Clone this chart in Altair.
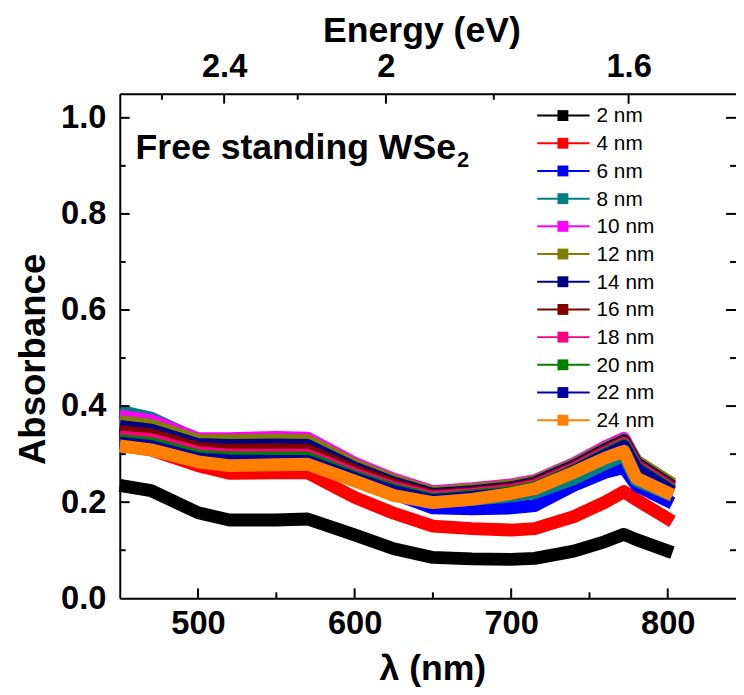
import altair as alt
import pandas as pd

# ---------------- data ----------------
wavelength = [450, 470, 500, 520, 550, 570, 600, 625, 650, 675, 700, 715, 740, 760, 772, 780, 803]

labels = ["2 nm", "4 nm", "6 nm", "8 nm", "10 nm", "12 nm", "14 nm", "16 nm",
          "18 nm", "20 nm", "22 nm", "24 nm"]
colors = ["#000000", "#FF0000", "#0000FF", "#008080", "#FF00FF", "#808000",
          "#000080", "#800000", "#FF0080", "#008000", "#0000A0", "#FF8000"]

a2 = [0.235, 0.224, 0.178, 0.163, 0.163, 0.165, 0.132, 0.103, 0.085, 0.082, 0.081, 0.083, 0.098, 0.118, 0.133, 0.122, 0.095]
a4 = [0.318, 0.309, 0.276, 0.260, 0.261, 0.261, 0.210, 0.177, 0.150, 0.145, 0.142, 0.145, 0.170, 0.200, 0.222, 0.205, 0.160]
a6 = [0.340, 0.330, 0.300, 0.295, 0.300, 0.300, 0.260, 0.218, 0.188, 0.186, 0.188, 0.193, 0.235, 0.262, 0.272, 0.235, 0.198]
a8 = [0.389, 0.375, 0.330, 0.328, 0.330, 0.330, 0.275, 0.238, 0.202, 0.206, 0.213, 0.220, 0.249, 0.280, 0.298, 0.245, 0.214]
a10 = [0.379, 0.370, 0.332, 0.332, 0.335, 0.333, 0.281, 0.248, 0.222, 0.228, 0.236, 0.245, 0.280, 0.315, 0.333, 0.284, 0.235]
a12 = [0.368, 0.360, 0.328, 0.328, 0.329, 0.328, 0.277, 0.245, 0.220, 0.226, 0.234, 0.243, 0.278, 0.312, 0.330, 0.286, 0.238]
a14 = [0.358, 0.350, 0.320, 0.318, 0.319, 0.318, 0.271, 0.240, 0.216, 0.222, 0.230, 0.240, 0.275, 0.309, 0.328, 0.281, 0.233]
a16 = [0.347, 0.340, 0.312, 0.308, 0.309, 0.308, 0.265, 0.236, 0.213, 0.219, 0.227, 0.237, 0.272, 0.306, 0.325, 0.278, 0.230]
a18 = [0.336, 0.330, 0.303, 0.298, 0.298, 0.298, 0.258, 0.230, 0.210, 0.216, 0.224, 0.234, 0.269, 0.303, 0.322, 0.275, 0.227]
a20 = [0.328, 0.322, 0.296, 0.292, 0.292, 0.292, 0.253, 0.226, 0.206, 0.213, 0.221, 0.231, 0.266, 0.300, 0.319, 0.272, 0.224]
a22 = [0.323, 0.316, 0.290, 0.286, 0.285, 0.285, 0.249, 0.222, 0.203, 0.210, 0.218, 0.228, 0.264, 0.297, 0.316, 0.269, 0.221]
a24 = [0.317, 0.309, 0.284, 0.276, 0.278, 0.279, 0.244, 0.214, 0.199, 0.206, 0.218, 0.228, 0.262, 0.292, 0.306, 0.250, 0.215]
series_values = [a2, a4, a6, a8, a10, a12, a14, a16, a18, a20, a22, a24]

x_major = [500, 600, 700, 800]
x_minor = [550, 650, 750]
y_major = [0.2, 0.4, 0.6, 0.8, 1.0]
y_minor = [0.1, 0.3, 0.5, 0.7, 0.9]
y_labels = [0.0, 0.2, 0.4, 0.6, 0.8, 1.0]
e_major = [2.4, 2.0, 1.6]
e_minor = [2.6, 2.2, 1.8]

sample_title = "Free standing WSe"
sample_sub = "2"

# ---------------- layout ----------------
W, H = 623, 510
FONT = "Liberation Sans"

rows = []
for lab, vals in zip(labels, series_values):
    for w, a in zip(wavelength, vals):
        rows.append({"wl": w, "A": a, "series": lab})
df = pd.DataFrame(rows)

xscale = alt.Scale(domain=[450, 843.6], nice=False, zero=False)
yscale = alt.Scale(domain=[0, 1.05], nice=False, zero=False)
cscale = alt.Scale(domain=labels, range=colors)

x_axis = alt.Axis(orient="bottom", values=x_major, ticks=False, tickSize=0, grid=False,
                  labelFontSize=33, labelFontWeight="bold", labelFont=FONT,
                  labelPadding=10, labelColor="black",
                  domainColor="black", domainWidth=2,
                  title="λ (nm)", titleFontSize=36, titleFont=FONT,
                  titleFontWeight="bold", titleColor="black",
                  titleX=316, titleY=82, titleBaseline="alphabetic")
y_axis = alt.Axis(orient="left", values=y_labels, format=".1f", ticks=False, tickSize=0,
                  grid=False,
                  labelFontSize=33, labelFontWeight="bold", labelFont=FONT,
                  labelPadding=14, labelColor="black",
                  domainColor="black", domainWidth=2,
                  title="Absorbance", titleFontSize=37, titleFont=FONT,
                  titleFontWeight="bold", titleColor="black",
                  titleX=-76, titleY=268, titleAngle=-90, titleBaseline="alphabetic")

line_layers = []
for lab in labels:
    line_layers.append(
        alt.Chart(df).transform_filter(alt.datum.series == lab)
        .mark_line(strokeWidth=13, strokeJoin="round", strokeCap="butt")
        .encode(
            x=alt.X("wl:Q", scale=xscale, axis=x_axis),
            y=alt.Y("A:Q", scale=yscale, axis=y_axis),
            color=alt.Color("series:N", scale=cscale, legend=None),
            order=alt.Order("wl:Q"),
        )
    )
lines = alt.layer(*line_layers)


def xticks(vals, length, top=False):
    d = pd.DataFrame({"v": vals})
    if top:
        y0, y1 = 0, length
    else:
        y0, y1 = H, H - length
    return alt.Chart(d).mark_rule(color="black", strokeWidth=2).encode(
        x=alt.X("v:Q", scale=xscale, axis=None),
        y=alt.value(y0), y2=alt.value(y1))


def yticks(vals, length, right=False):
    d = pd.DataFrame({"v": vals})
    if right:
        x0, x1 = W, W - length
    else:
        x0, x1 = 0, length
    return alt.Chart(d).mark_rule(color="black", strokeWidth=2).encode(
        y=alt.Y("v:Q", scale=yscale, axis=None),
        x=alt.value(x0), x2=alt.value(x1))


top_major_wl = [1240.0 / e for e in e_major]
top_minor_wl = [1240.0 / e for e in e_minor]

top_axis_layer = alt.Chart(pd.DataFrame({"v": top_major_wl})).mark_rule(
    color="black", strokeWidth=2).encode(
    x=alt.X("v:Q", scale=xscale,
            axis=alt.Axis(orient="top", values=top_major_wl,
                          labelExpr="'' + round(12400 / datum.value) / 10",
                          ticks=False, tickSize=0, grid=False,
                          labelFontSize=33, labelFontWeight="bold", labelFont=FONT,
                          labelPadding=17, labelBaseline="alphabetic", labelColor="black",
                          domainColor="black", domainWidth=2,
                          title="Energy (eV)", titleFontSize=36, titleFont=FONT,
                          titleFontWeight="bold", titleColor="black",
                          titleX=305, titleY=-53, titleBaseline="alphabetic")),
    y=alt.value(0), y2=alt.value(10))

text_main = alt.Chart(pd.DataFrame({"t": [sample_title]})).mark_text(
    align="left", baseline="alphabetic", fontSize=36, fontWeight="bold",
    font=FONT, color="black").encode(x=alt.value(16), y=alt.value(66), text="t:N")
text_sub = alt.Chart(pd.DataFrame({"t": [sample_sub]})).mark_text(
    align="left", baseline="alphabetic", fontSize=22, fontWeight="bold",
    font=FONT, color="black").encode(x=alt.value(341), y=alt.value(74), text="t:N")

main = alt.layer(
    lines,
    xticks(x_major, 10), xticks(x_minor, 6),
    top_axis_layer, xticks(top_minor_wl, 6, top=True),
    yticks(y_major, 10), yticks(y_minor, 6),
    yticks(y_major, 10, right=True), yticks(y_minor, 6, right=True),
    text_main, text_sub,
).resolve_axis(x="independent", y="independent")

# ---------------- legend ----------------
leg_df = pd.DataFrame({"series": labels, "rank": list(range(len(labels)))})
leg_y = alt.Y("rank:Q", scale=alt.Scale(domain=[0, len(labels) - 1], range=[22, 330],
                                        nice=False, zero=False),
              axis=None)
leg_line = alt.Chart(leg_df).mark_rule(strokeWidth=2).encode(
    x=alt.value(422), x2=alt.value(475), y=leg_y,
    color=alt.Color("series:N", scale=cscale, legend=None))
leg_sq = alt.Chart(leg_df).mark_square(size=121, filled=True, opacity=1).encode(
    x=alt.value(448), y=leg_y,
    color=alt.Color("series:N", scale=cscale, legend=None))
leg_txt = alt.Chart(leg_df).mark_text(
    align="left", baseline="middle", fontSize=21, font=FONT, color="black", dy=1).encode(
    x=alt.value(482), y=leg_y, text="series:N")
legend = alt.layer(leg_line, leg_sq, leg_txt)

chart = alt.layer(main, legend).resolve_scale(y="independent").resolve_axis(
    y="independent").properties(
    width=W, height=H,
    autosize=alt.AutoSizeParams(type="none"),
    padding={"left": 113, "top": 83, "right": 0, "bottom": 90},
    background="white",
).configure_view(stroke=None)

chart.save("out.html", embed_options={"renderer": "svg", "actions": False})
